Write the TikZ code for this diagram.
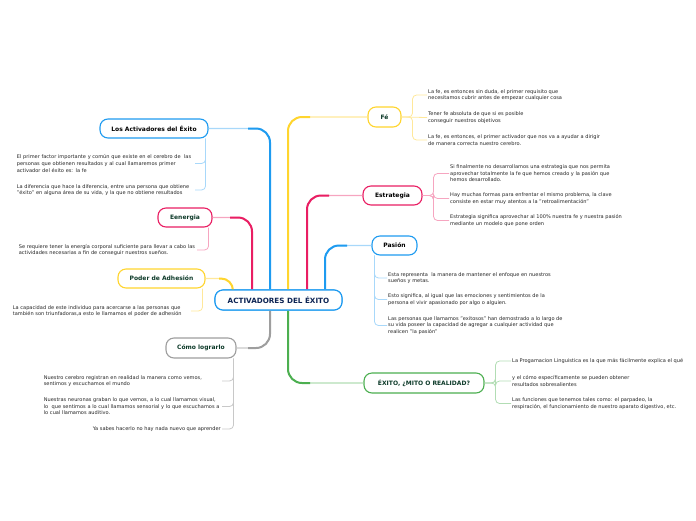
\documentclass[tikz,border=0pt]{standalone}
\usepackage{fontspec}
\setmainfont{DejaVu Sans}
\usetikzlibrary{calc}
\definecolor{cblue}{HTML}{1E9BF0}
\definecolor{cyellow}{HTML}{FFD52E}
\definecolor{cpink}{HTML}{E91E63}
\definecolor{cgray}{HTML}{9E9E9E}
\definecolor{cgreen}{HTML}{4CAF50}
\definecolor{lblue}{HTML}{A8D8FA}
\definecolor{lyellow}{HTML}{FFE89A}
\definecolor{lpink}{HTML}{F6A5C0}
\definecolor{lgray}{HTML}{C8C8C8}
\definecolor{lgreen}{HTML}{B2DDB4}
\definecolor{tgreen}{HTML}{0E3B2A}
\definecolor{tnavy}{HTML}{0D2454}
\definecolor{leaftext}{HTML}{262626}
\tikzset{
  topic/.style={draw, line width=1.1pt, rounded corners=8pt, fill=white,
    font=\fontsize{6}{7}\selectfont\bfseries, inner sep=0pt, minimum height=19pt},
  leaf/.style={font=\fontsize{5.05}{6.6}\selectfont, text=leaftext, inner sep=1pt, align=left},
  lleaf/.style={leaf, anchor=east, text width=177pt},
  rleaf/.style={leaf, anchor=west},
  trunk/.style={line width=2pt, rounded corners=14pt},
  fadeline/.style={line width=1.3pt, rounded corners=14pt},
  twig/.style={line width=0.8pt, rounded corners=4pt},
  hub/.style={topic, draw=cblue, text=tnavy, minimum width=127pt, minimum height=20pt, font=\fontsize{7.2}{8}\selectfont\bfseries}
}
\begin{document}
\begin{tikzpicture}[x=1pt,y=-1pt]
\useasboundingbox (0,0) rectangle (696,520);
% topics
\node[hub] (C) at (278.5,300) {ACTIVADORES DEL ÉXITO};
\node[topic, draw=cblue, minimum width=108pt] (LA) at (154,128.5) {Los Activadores del Éxito};
\node[topic, draw=cpink, text=tgreen, minimum width=54pt] (E) at (185,217.5) {Eenergia};
\node[topic, draw=cyellow, text=tgreen, minimum width=87pt] (PA) at (161.5,278.5) {Poder de Adhesión};
\node[topic, draw=cgray, text=tgreen, minimum width=70pt, minimum height=20pt] (CL) at (201,348) {Cómo lograrlo};
\node[topic, draw=cyellow, text=tgreen, minimum width=33pt, minimum height=20pt] (F) at (384.5,117) {Fé};
\node[topic, draw=cpink, minimum width=59pt] (S) at (392.5,195.5) {Estrategia};
\node[topic, draw=cblue, minimum width=45pt] (Pa) at (394.5,245.5) {Pasión};
\node[topic, draw=cgreen, text=tgreen, minimum width=120pt, minimum height=20pt] (X) at (424,383) {ÉXITO, ¿MITO O REALIDAD?};

% trunk start points
\coordinate (tLA) at ($(C.north)+(-8.5,0)$);
\coordinate (tF) at ($(C.north)+(9.5,0)$);
\coordinate (tS) at ($(C.north)+(28.5,0)$);
\coordinate (tPa) at ($(C.north)+(46.5,0)$);
\coordinate (tE) at ($(C.north)+(-26.5,0)$);
\coordinate (tPA) at ($(C.north)+(-45.5,0)$);
\coordinate (tCL) at ($(C.south)+(-8.5,0)$);
\coordinate (tX) at ($(C.south)+(9.5,0)$);

% trunks: pale full path, saturated part near the centre
\draw[fadeline, lblue] (tLA) |- (LA.east);
\draw[trunk, cblue] (tLA) |- ($(LA.east -| tLA)+(-22,0)$);
\draw[fadeline, lyellow] (tF) |- (F.west);
\draw[trunk, cyellow] (tF) |- ($(F.west -| tF)+(22,0)$);
\draw[fadeline, lpink] (tS) |- (S.west);
\draw[trunk, cpink] (tS) |- ($(S.west -| tS)+(22,0)$);
\draw[fadeline, lblue] (tPa) |- (Pa.west);
\draw[trunk, cblue] (tPa) |- ($(Pa.west -| tPa)+(22,0)$);
\draw[fadeline, lpink] (tE) |- (E.east);
\draw[trunk, cpink] (tE) |- ($(E.east -| tE)+(-22,0)$);
\draw[fadeline, lyellow, rounded corners=12pt] (tPA) |- (PA.east);
\draw[trunk, cyellow, rounded corners=12pt] (tPA) |- ($(PA.east -| tPA)+(-14,0)$);
\draw[fadeline, lgray] (tCL) |- (CL.east);
\draw[trunk, cgray] (tCL) |- ($(CL.east -| tCL)+(-22,0)$);
\draw[fadeline, lgreen] (tX) |- (X.west);
\draw[trunk, cgreen] (tX) |- ($(X.west -| tX)+(22,0)$);
\node[hub] at (C) {ACTIVADORES DEL ÉXITO};

% leaves: Los Activadores del Éxito
\node[lleaf] (LA1) at (195,163.5) {\mbox{El primer factor importante y común que existe en el cerebro de\ \ las}\\\mbox{personas que obtienen resultados y al cual llamaremos primer}\\\mbox{activador del éxito es: la fe}};
\node[lleaf] (LA2) at (195,190) {\mbox{La diferencia que hace la diferencia, entre una persona que obtiene}\\\mbox{"éxito" en alguna área de su vida, y la que no obtiene resultados}};
\draw[twig, lblue] ($(LA.south east)+(-3,0)$) |- (LA1.east);
\draw[twig, lblue] ($(LA.south east)+(-3,0)$) |- (LA2.east);

% Eenergia
\node[lleaf] (E1) at (197,250) {\mbox{Se requiere tener la energía corporal suficiente para llevar a cabo las}\\\mbox{actividades necesarias a fin de conseguir nuestros sueños.}};
\draw[twig, lpink] ($(E.south east)+(-4,0)$) |- (E1.east);

% Poder de Adhesión
\node[lleaf] (PA1) at (191,311) {\mbox{La capacidad de este individuo para acercarse a las personas que}\\\mbox{también son triunfadoras,a esto le llamamos el poder de adhesión}};
\draw[twig, lyellow] ($(PA.south east)+(-3,0)$) |- (PA1.east);

% Cómo lograrlo
\node[lleaf] (C1) at (222,381) {\mbox{Nuestro cerebro registran en realidad la manera como vemos,}\\\mbox{sentimos y escuchamos el mundo}};
\node[lleaf] (C2) at (222,406.5) {\mbox{Nuestras neuronas graban lo que vemos, a lo cual llamamos visual,}\\\mbox{lo\ \ que sentimos a lo cual llamamos sensorial y lo que escuchamos a}\\\mbox{lo cual llamamos auditivo.}};
\node[leaf, anchor=east] (C3) at (222,429) {Ya sabes hacerlo no hay nada nuevo que aprender};
\draw[twig, lgray] ($(CL.south east)+(-3,0)$) |- (C1.east);
\draw[twig, lgray] ($(CL.south east)+(-3,0)$) |- (C2.east);
\draw[twig, lgray] ($(CL.south east)+(-3,0)$) |- (C3.east);

% Fé
\node[rleaf] (F1) at (427,95) {La fe, es entonces sin duda, el primer requisito que\\necesitamos cubrir antes de empezar cualquier cosa};
\node[rleaf] (F2) at (427,117.5) {Tener fe absoluta de que si es posible\\conseguir nuestros objetivos};
\node[rleaf] (F3) at (427,140) {La fe, es entonces, el primer activador que nos va a ayudar a dirigir\\de manera correcta nuestro cerebro.};
\draw[twig, lyellow] (F.east) -- ++(11,0) |- (F1.west);
\draw[twig, lyellow] (F.east) -- (F2.west);
\draw[twig, lyellow] (F.east) -- ++(11,0) |- (F3.west);

% Estrategia
\node[rleaf] (S1) at (449,173.5) {Si finalmente no desarrollamos una estrategia que nos permita\\aprovechar totalmente la fe que hemos creado y la pasión que\\hemos desarrollado.};
\node[rleaf] (S2) at (449,198.5) {Hay muchas formas para enfrentar el mismo problema, la clave\\consiste en estar muy atentos a la "retroalimentación"};
\node[rleaf] (S3) at (449,220.5) {Estrategia significa aprovechar al 100\% nuestra fe y nuestra pasión\\mediante un modelo que pone orden};
\draw[twig, lpink] (S.east) -- ++(11,0) |- (S1.west);
\draw[twig, lpink] (S.east) -- ++(11,0) |- (S2.west);
\draw[twig, lpink] (S.east) -- ++(11,0) |- (S3.west);

% Pasión
\node[rleaf] (P1) at (387,278) {Esta representa\ \ la manera de mantener el enfoque en nuestros\\sueños y metas.};
\node[rleaf] (P2) at (387,299.5) {Esto significa, al igual que las emociones y sentimientos de la\\persona el vivir apasionado por algo o alguien.};
\node[rleaf] (P3) at (387,325.5) {Las personas que llamamos "exitosos" han demostrado a lo largo de\\su vida poseer la capacidad de agregar a cualquier actividad que\\realicen "la pasión"};
\draw[twig, lblue] ($(Pa.south west)+(3,0)$) |- (P1.west);
\draw[twig, lblue] ($(Pa.south west)+(3,0)$) |- (P2.west);
\draw[twig, lblue] ($(Pa.south west)+(3,0)$) |- (P3.west);

% Éxito
\node[rleaf] (X1) at (511,361) {La Progamacion Linguistica es la que más fácilmente explica el qué};
\node[rleaf] (X2) at (511,381) {y el cómo específicamente se pueden obtener\\resultados sobresalientes};
\node[rleaf] (X3) at (511,403.5) {Las funciones que tenemos tales como: el parpadeo, la\\respiración, el funcionamiento de nuestro aparato digestivo, etc.};
\draw[twig, lgreen] (X.east) -- ++(11,0) |- (X1.west);
\draw[twig, lgreen] (X.east) -- ++(11,0) |- (X2.west);
\draw[twig, lgreen] (X.east) -- ++(11,0) |- (X3.west);
\end{tikzpicture}
\end{document}
